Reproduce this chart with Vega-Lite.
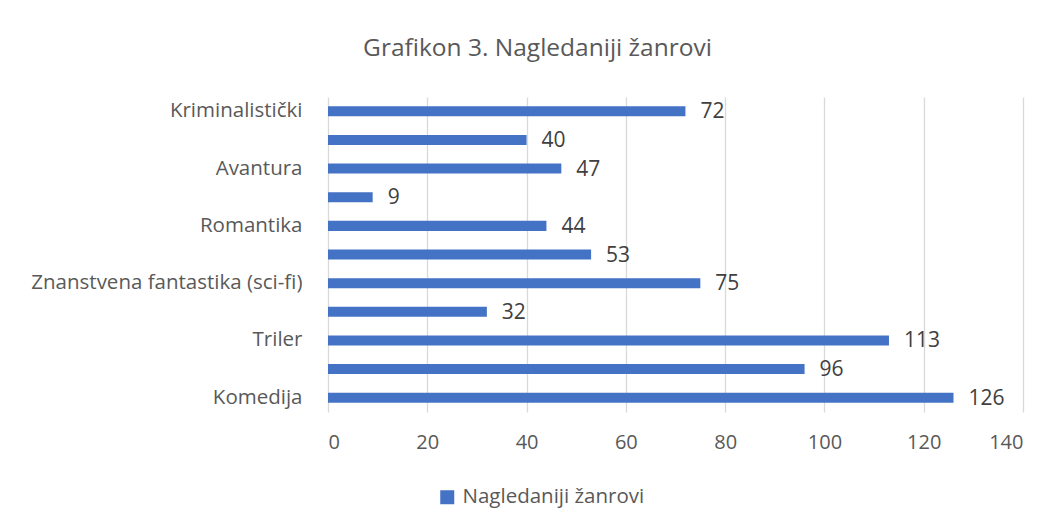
{
  "$schema": "https://vega.github.io/schema/vega-lite/v6.json",
  "width": 695,
  "height": 315,
  "autosize": {"type": "none"},
  "padding": {"left": 328, "top": 97, "right": 35, "bottom": 116},
  "background": "white",
  "config": {
    "font": "Open Sans",
    "view": {"stroke": null}
  },
  "title": {
    "text": "Grafikon 3. Nagledaniji žanrovi",
    "font": "Open Sans",
    "fontSize": 24.5,
    "fontWeight": "normal",
    "color": "#595959",
    "anchor": "middle",
    "frame": "group",
    "dx": -138,
    "baseline": "alphabetic",
    "offset": 17
  },
  "data": {
    "values": [
      {"zanr": "Kriminalistički", "broj": 72},
      {"zanr": "Drama", "broj": 40},
      {"zanr": "Avantura", "broj": 47},
      {"zanr": "Dokumentarni", "broj": 9},
      {"zanr": "Romantika", "broj": 44},
      {"zanr": "Horor", "broj": 53},
      {"zanr": "Znanstvena fantastika (sci-fi)", "broj": 75},
      {"zanr": "Animirani", "broj": 32},
      {"zanr": "Triler", "broj": 113},
      {"zanr": "Akcija", "broj": 96},
      {"zanr": "Komedija", "broj": 126}
    ]
  },
  "encoding": {
    "y": {
      "field": "zanr",
      "type": "nominal",
      "sort": null,
      "scale": {"paddingInner": 0.65, "paddingOuter": 0.325},
      "axis": {
        "title": null,
        "domain": false,
        "ticks": false,
        "labelPadding": 26,
        "labelFont": "Open Sans",
        "labelFontSize": 20.5,
        "labelColor": "#595959",
        "labelLimit": 400,
        "labelExpr": "indexof(['Kriminalistički','Avantura','Romantika','Znanstvena fantastika (sci-fi)','Triler','Komedija'], datum.value) >= 0 ? datum.value : ''"
      }
    },
    "x": {
      "field": "broj",
      "type": "quantitative",
      "scale": {"domain": [0, 140], "nice": false},
      "axis": {
        "title": null,
        "values": [0, 20, 40, 60, 80, 100, 120, 140],
        "domain": false,
        "ticks": false,
        "grid": true,
        "gridColor": "#d9d9d9",
        "gridWidth": 1.3,
        "labelPadding": 20,
        "labelFont": "Open Sans",
        "labelFontSize": 20,
        "labelColor": "#595959"
      }
    }
  },
  "layer": [
    {
      "mark": {"type": "bar", "color": "#4472C4"},
      "encoding": {
        "color": {
          "datum": "Nagledaniji žanrovi",
          "type": "nominal",
          "scale": {"range": ["#4472C4"]},
          "legend": {
            "title": null,
            "orient": "none",
            "legendX": 109,
            "legendY": 390,
            "padding": 0,
            "symbolType": "square",
            "symbolSize": 196,
            "symbolStrokeWidth": 0,
            "labelOffset": 5,
            "labelLimit": 400,
            "labelFont": "Open Sans",
            "labelFontSize": 20.5,
            "labelColor": "#595959"
          }
        }
      }
    },
    {
      "mark": {"type": "text", "align": "left", "baseline": "middle", "dx": 15, "dy": 1, "font": "Open Sans", "fontSize": 21, "color": "#404040"},
      "encoding": {"text": {"field": "broj", "type": "quantitative"}}
    }
  ]
}
